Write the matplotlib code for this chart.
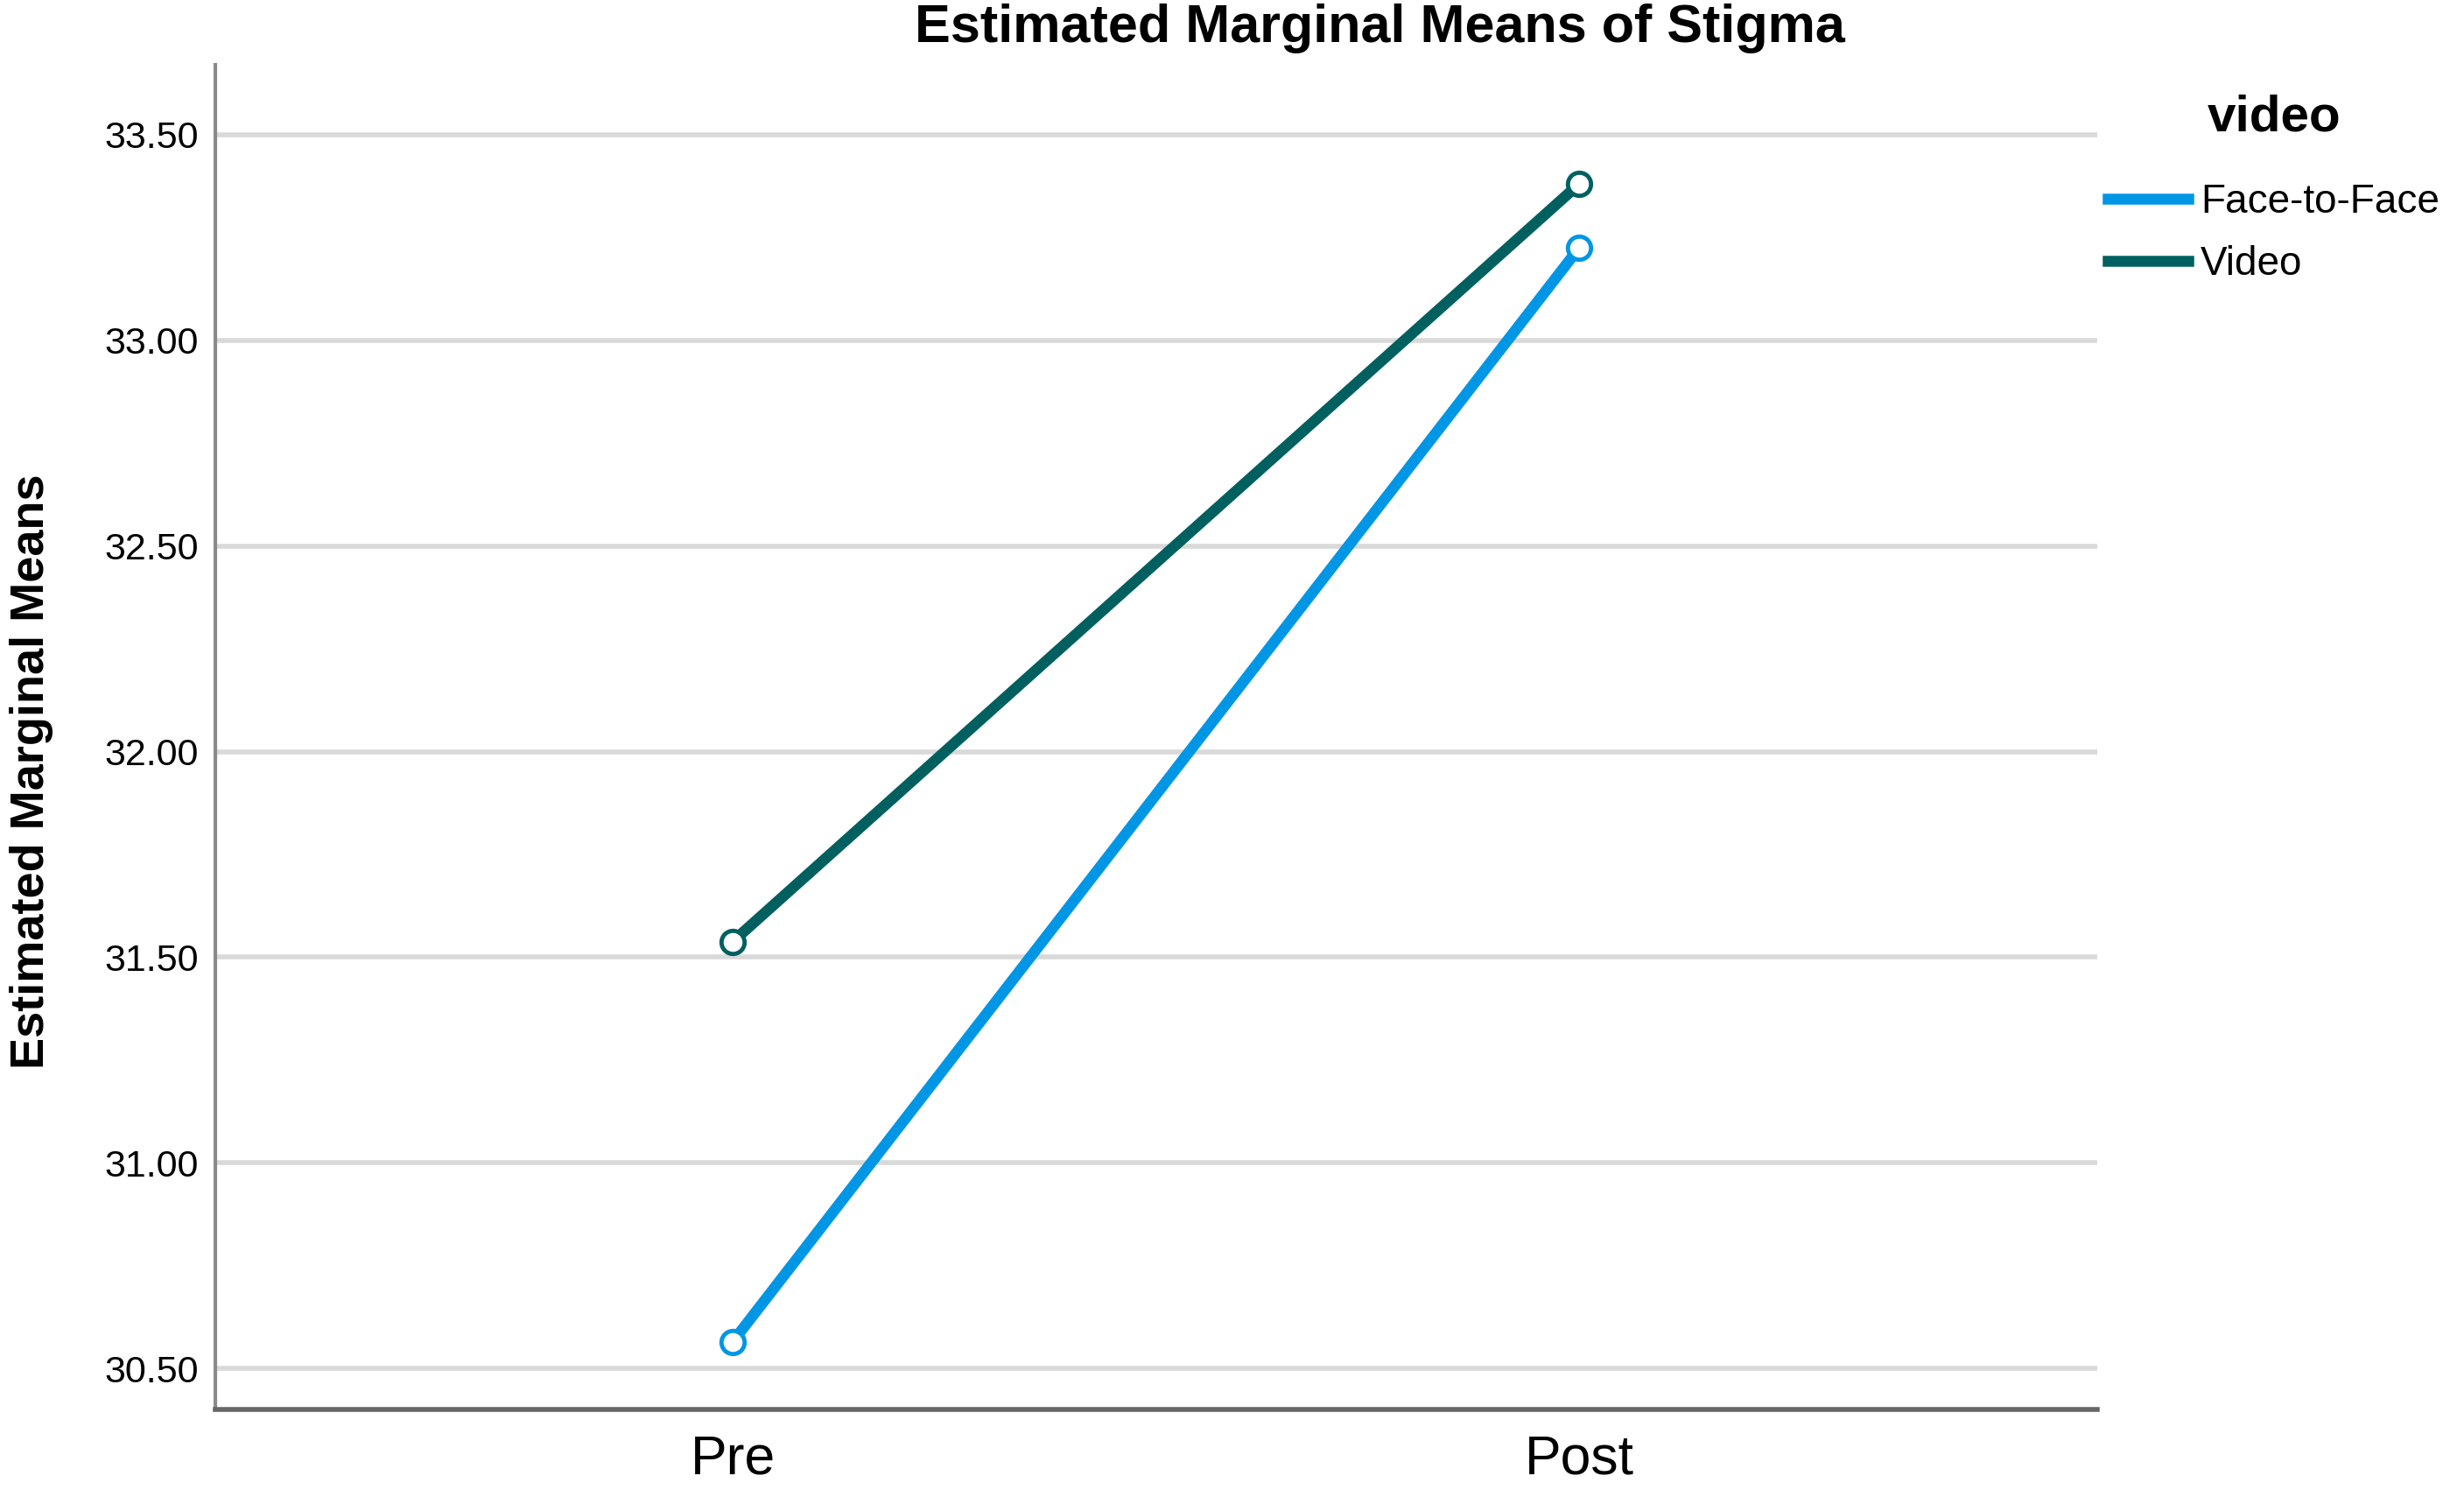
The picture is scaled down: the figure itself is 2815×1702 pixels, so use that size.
import matplotlib
matplotlib.use("Agg")
import matplotlib.pyplot as plt
from matplotlib.lines import Line2D

# Estimated marginal means of Stigma
times = ["Pre", "Post"]
groups = ["Face-to-Face", "Video"]
face_to_face = [30.565, 33.226]
video = [31.538, 33.381]
colors = ["#0096E6", "#006060"]
y_ticks = [30.5, 31.0, 31.5, 32.0, 32.5, 33.0, 33.5]

narrow = ["Liberation Sans Narrow", "Liberation Sans", "DejaVu Sans"]

fig = plt.figure(figsize=(28.15, 17.02), dpi=100)
ax = fig.add_axes([0.0874, 0.054, 0.7636, 0.9025])

x = list(range(len(times)))
for vals, col in zip([face_to_face, video], colors):
    ax.plot(x, vals, color=col, lw=9, solid_capstyle="butt", zorder=3)
    ax.plot(x, vals, ls="none", marker="o", ms=19, mfc="white",
            mec=col, mew=3.5, zorder=4)

ax.set_xlim(-0.611, 1.611)
ax.set_ylim(30.40, 33.67)
ax.set_yticks(y_ticks)
ax.set_yticklabels([f"{v:.2f}" for v in y_ticks], fontfamily=narrow, fontsize=31)
ax.set_xticks(x)
ax.set_xticklabels(times, fontfamily=narrow, fontsize=45)
ax.tick_params(axis="y", length=0, pad=14)
ax.tick_params(axis="x", length=0, pad=20)

for v in y_ticks:
    ax.axhline(v, color="#d9d9d9", lw=4, zorder=1)

for s in ["top", "right"]:
    ax.spines[s].set_visible(False)
ax.spines["left"].set_color("#8a8a8a")
ax.spines["left"].set_linewidth(3)
ax.spines["bottom"].set_color("#666666")
ax.spines["bottom"].set_linewidth(4)

fig.text(0.0128, 0.482, "Estimated Marginal Means", rotation=90, ha="center",
         va="center", fontfamily=narrow, fontweight="bold", fontsize=39)
fig.text(0.5600, 0.981, "Estimated Marginal Means of Stigma", ha="center",
         va="center", fontfamily=narrow, fontweight="bold", fontsize=44)

handles = [Line2D([0], [0], color=c, lw=9) for c in colors]
leg = ax.legend(handles, groups, loc="upper left", bbox_to_anchor=(1.006, 0.978),
                frameon=False, borderpad=0, borderaxespad=0, handlelength=2.0,
                handletextpad=0.3, labelspacing=0.58,
                prop={"family": narrow, "size": 33})
leg.set_title("video", prop={"family": narrow, "weight": "bold", "size": 42})
leg._legend_box.sep = 34

fig.savefig("out.png", dpi=100, facecolor="white")
